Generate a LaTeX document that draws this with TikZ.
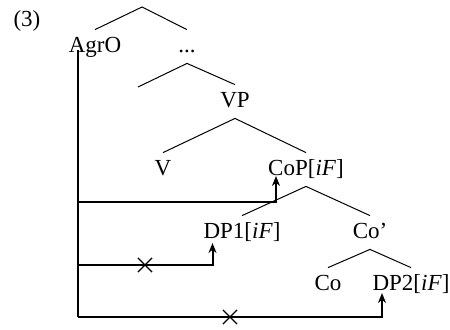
\documentclass[tikz,border=0pt]{standalone}
\usepackage{fontspec}
\setmainfont{Liberation Serif}
\usetikzlibrary{arrows.meta,shapes.misc}

\begin{document}
\begin{tikzpicture}[
  x=0.5pt,y=-0.5pt,
  font=\fontsize{11.5}{14}\selectfont,
  lbl/.style={inner sep=3pt,text height=8pt,text depth=2.5pt,anchor=base},
  br/.style={line width=0.5pt},
  mv/.style={-{Stealth[length=5pt,width=4pt]},line width=1pt},
  blocked/.style={draw,cross out,line width=0.6pt,minimum size=6.5pt,inner sep=0pt}]
\useasboundingbox (0,0) rectangle (450,329);
\node[lbl] (num) at (27,26) {(3)};
\coordinate (root) at (142,7);
\node[lbl] (agro) at (95,52) {AgrO};
\node[lbl] (dots) at (187,52) {...};
\coordinate (gap) at (138,87);
\node[lbl] (vp) at (235,107) {VP};
\node[lbl] (v) at (163,175) {V};
\node[lbl] (cop) at (306,175) {CoP[\textit{iF}]};
\node[lbl] (dpone) at (242,238) {DP1[\textit{iF}]};
\node[lbl] (cobar) at (370,238) {Co'};
\node[lbl] (co) at (328,290) {Co};
\node[lbl] (dptwo) at (411,290) {DP2[\textit{iF}]};
% branches
\draw[br] (agro.north) -- (root) -- (dots.north);
\draw[br] (gap) -- (dots.south) -- (vp.north);
\draw[br] (v.north) -- (vp.south) -- (cop.north);
\draw[br] (dpone.north) -- (cop.south) -- (cobar.north);
\draw[br] (co.north) -- (cobar.south) -- (dptwo.north);
% movement paths
\coordinate (t0) at (77.5,50);
\coordinate (t1) at (77.5,202);
\coordinate (t2) at (77.5,265);
\coordinate (t3) at (77.5,317);
\draw[line width=1pt] (t0) -- (t3);
\draw[mv] (t1) -| ([xshift=-15pt,yshift=-0.5pt]cop.base);
\draw[mv] (t2) -| ([xshift=-14.75pt,yshift=-2.5pt]dpone.base);
\draw[mv] (t3) -| ([xshift=-14.5pt,yshift=-1.5pt]dptwo.base);
\node[blocked] (xa) at (145,265) {};
\node[blocked] (xb) at (230,317) {};
\end{tikzpicture}
\end{document}
